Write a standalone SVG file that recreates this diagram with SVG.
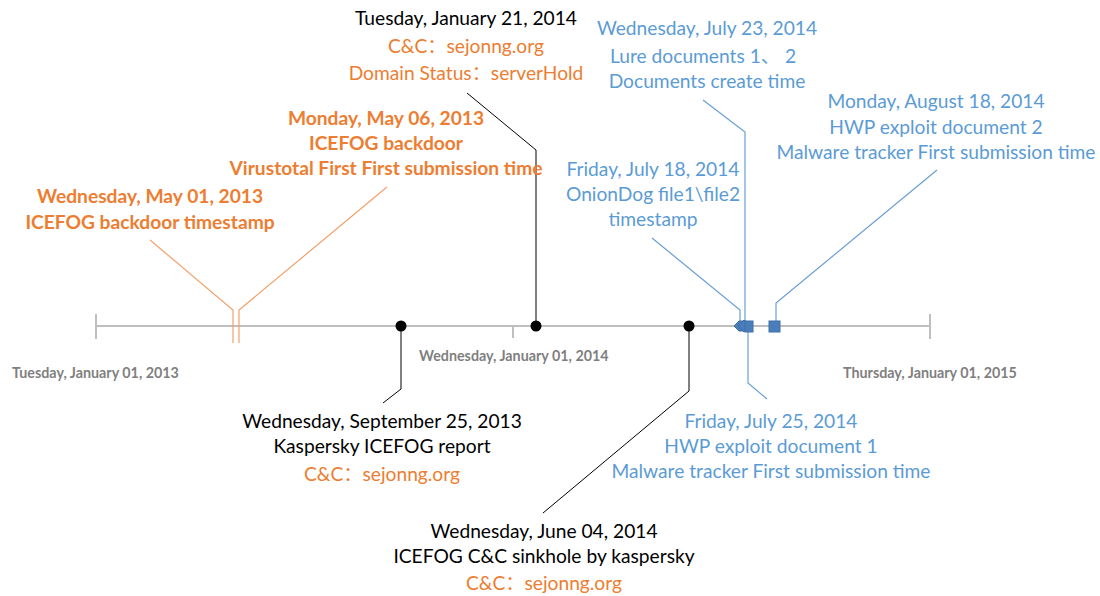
<svg xmlns="http://www.w3.org/2000/svg" width="1100" height="596" viewBox="0 0 1100 596">
<style>
text{font-family:Lato,"Liberation Sans","Noto Sans CJK SC",sans-serif;font-size:19.2px;text-anchor:middle}
.k{fill:#000}
.o{fill:#ED7D31}
.ob{fill:#ED7D31;font-weight:bold}
.b{fill:#5B9BD5}
.ax{fill:#7F7F7F;font-weight:bold;font-size:14.3px;text-anchor:start}
.axis{stroke:#BFBFBF;stroke-width:2;fill:none}
.lk{stroke:#000;stroke-width:1;fill:none}
.lo{stroke:#F4A06A;stroke-width:1.2;fill:none}
.lb{stroke:#6A9ED6;stroke-width:1.2;fill:none}
.mb{fill:#4A7EBB;stroke:#3F6FA8;stroke-width:1}
</style>
<rect width="1100" height="596" fill="#fff"/>
<g id="axis">
<line class="axis" x1="96" y1="326" x2="930" y2="326"/>
<line class="axis" x1="96" y1="314" x2="96" y2="339"/>
<line class="axis" x1="930" y1="314" x2="930" y2="339"/>
<line class="axis" x1="513" y1="326" x2="513" y2="338"/>
<text class="ax" x="12" y="378">Tuesday, January 01, 2013</text>
<text class="ax" x="419" y="361">Wednesday, January 01, 2014</text>
<text class="ax" x="843" y="378">Thursday, January 01, 2015</text>
</g>
<g id="connectors">
<polyline class="lo" points="150,240 233,310 233,343"/>
<polyline class="lo" points="387,187 239,310 239,343"/>
<polyline class="lk" points="467,93 536,150 536,326"/>
<polyline class="lk" points="401,326 401,389 383,403"/>
<polyline class="lk" points="689,326 689,391 543,513"/>
<polyline class="lb" points="652,238 740,310 740,326"/>
<polyline class="lb" points="703,100 745,132 745,326"/>
<polyline class="lb" points="748,326 748,383 767,399"/>
<polyline class="lb" points="937,170 776,303 776,321"/>
</g>
<g id="markers">
<circle cx="401" cy="326" r="5.5" fill="#000"/>
<circle cx="536" cy="326" r="5.5" fill="#000"/>
<circle cx="689" cy="326" r="5.5" fill="#000"/>
<polygon class="mb" points="734,326 739,321 746,321 746,331 739,331"/>
<polygon class="mb" points="744,320 750,326 744,332 738,326"/>
<rect class="mb" x="745" y="321" width="8" height="11"/>
<rect class="mb" x="769" y="321" width="11" height="11"/>
</g>
<g id="n-jan21-2014">
<text class="k" x="466" y="25">Tuesday, January 21, 2014</text>
<text class="o" x="466" y="53">C&amp;C：sejonng.org</text>
<text class="o" x="466" y="80">Domain Status：serverHold</text>
</g>
<g id="n-may06-2013">
<text class="ob" x="386" y="125">Monday, May 06, 2013</text>
<text class="ob" x="386" y="150">ICEFOG backdoor</text>
<text class="ob" x="386" y="175">Virustotal First First submission time</text>
</g>
<g id="n-may01-2013">
<text class="ob" x="150" y="203">Wednesday, May 01, 2013</text>
<text class="ob" x="150" y="229">ICEFOG backdoor timestamp</text>
</g>
<g id="n-jul23-2014">
<text class="b" x="707" y="35">Wednesday, July 23, 2014</text>
<text class="b" x="703" y="63">Lure documents 1、 2</text>
<text class="b" x="707" y="88">Documents create time</text>
</g>
<g id="n-aug18-2014">
<text class="b" x="936" y="108">Monday, August 18, 2014</text>
<text class="b" x="936" y="134">HWP exploit document 2</text>
<text class="b" x="936" y="159">Malware tracker First submission time</text>
</g>
<g id="n-jul18-2014">
<text class="b" x="653" y="176">Friday, July 18, 2014</text>
<text class="b" x="653" y="201">OnionDog file1\file2</text>
<text class="b" x="653" y="226">timestamp</text>
</g>
<g id="n-jul25-2014">
<text class="b" x="771" y="428">Friday, July 25, 2014</text>
<text class="b" x="771" y="453">HWP exploit document 1</text>
<text class="b" x="771" y="478">Malware tracker First submission time</text>
</g>
<g id="n-sep25-2013">
<text class="k" x="382" y="428">Wednesday, September 25, 2013</text>
<text class="k" x="382" y="453">Kaspersky ICEFOG report</text>
<text class="o" x="382" y="481">C&amp;C：sejonng.org</text>
</g>
<g id="n-jun04-2014">
<text class="k" x="544" y="538">Wednesday, June 04, 2014</text>
<text class="k" x="544" y="563">ICEFOG C&amp;C sinkhole by kaspersky</text>
<text class="o" x="544" y="590">C&amp;C：sejonng.org</text>
</g>
</svg>
